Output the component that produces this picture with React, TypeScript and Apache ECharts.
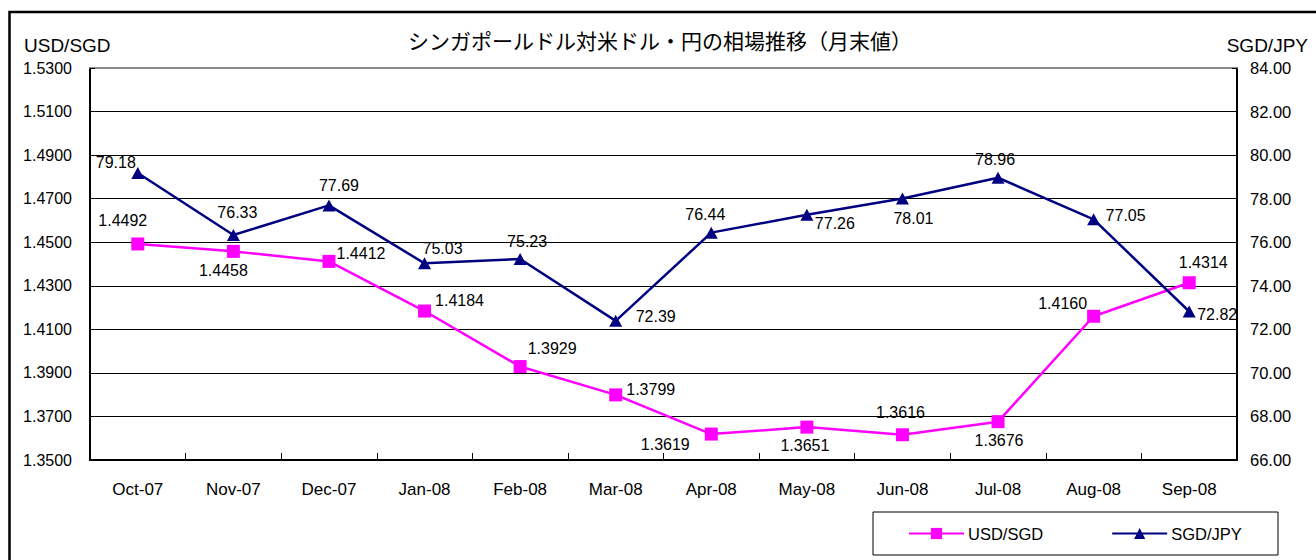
import React, { useEffect, useRef } from "react";
import * as echarts from "echarts";

const categories = ["Oct-07", "Nov-07", "Dec-07", "Jan-08", "Feb-08", "Mar-08", "Apr-08", "May-08", "Jun-08", "Jul-08", "Aug-08", "Sep-08"];
const usdSgd = [1.4492, 1.4458, 1.4412, 1.4184, 1.3929, 1.3799, 1.3619, 1.3651, 1.3616, 1.3676, 1.416, 1.4314];
const sgdJpy = [79.18, 76.33, 77.69, 75.03, 75.23, 72.39, 76.44, 77.26, 78.01, 78.96, 77.05, 72.82];

// label offsets (style only)
const usdLabelOffsets = [[-15, -23], [-10, 19], [32, -8], [35, -11], [32, -18], [35, -5], [-46, 10], [-2, 18], [-2, -22], [1, 19], [-31, -13], [14, -20]];
const jpyLabelOffsets = [[-22, -10], [4, -23], [10, -20], [18, -15], [7, -17], [40, -4], [-6, -18], [28, 9], [11, 20], [-3, -18], [32, -4], [28, 3]];

const NUM_FONT = "'Liberation Sans', Arial, sans-serif";
const TXT_FONT = "'Liberation Sans', Arial, sans-serif";
const CJK_FONT = "'Noto Sans CJK JP', 'Noto Sans', sans-serif";

export default function App() {
  const ref = useRef<HTMLDivElement>(null);
  useEffect(() => {
    if (!ref.current) return;
    const chart = echarts.init(ref.current, undefined, { renderer: "svg" });
    chart.setOption({
      animation: false,
      backgroundColor: "#fff",
      grid: { left: 90, right: 79, top: 68, bottom: 100, containLabel: false },
      graphic: [
        { type: "rect", silent: true, z: -10, shape: { x: 9.5, y: 12, width: 1400, height: 600 }, style: { fill: "none", stroke: "#000", lineWidth: 2.5 } },
        { type: "text", x: 660, y: 40, style: { text: "シンガポールドル対米ドル・円の相場推移（月末値）", fontSize: 21, fontFamily: CJK_FONT, fill: "#000", align: "center", verticalAlign: "middle", textAlign: "center", textVerticalAlign: "middle" } },
        { type: "text", x: 24, y: 45, style: { text: "USD/SGD", fontSize: 19, fontFamily: TXT_FONT, fill: "#000", align: "left", verticalAlign: "middle", textAlign: "left", textVerticalAlign: "middle" } },
        { type: "text", x: 1308, y: 45, style: { text: "SGD/JPY", fontSize: 19, fontFamily: TXT_FONT, fill: "#000", align: "right", verticalAlign: "middle", textAlign: "right", textVerticalAlign: "middle" } },
        { type: "rect", silent: true, shape: { x: 873, y: 512, width: 405, height: 43 }, style: { fill: "#fff", stroke: "#000", lineWidth: 1 } },
      ],
      legend: {
        left: 908,
        top: 525,
        padding: 0,
        itemWidth: 55,
        itemHeight: 14,
        itemGap: 68,
        textStyle: { fontSize: 16.5, fontFamily: TXT_FONT, color: "#000", padding: [0, 0, 0, -1] },
        data: ["USD/SGD", "SGD/JPY"],
        z: 10,
      },
      xAxis: [
        {
          type: "category",
          data: categories,
          boundaryGap: true,
          position: "bottom",
          axisLine: { lineStyle: { color: "#000", width: 2 } },
          axisTick: { show: true, inside: true, length: 7, alignWithLabel: false, lineStyle: { color: "#000", width: 1 } },
          axisLabel: { fontSize: 17, fontFamily: TXT_FONT, color: "#000", margin: 21 },
          splitLine: { show: false },
        },
        {
          type: "category",
          data: categories,
          position: "top",
          axisLine: { lineStyle: { color: "#888", width: 2 } },
          axisTick: { show: false },
          axisLabel: { show: false },
          splitLine: { show: false },
        },
      ],
      yAxis: [
        {
          type: "value",
          min: 1.35,
          max: 1.53,
          interval: 0.02,
          position: "left",
          axisLine: { show: true, lineStyle: { color: "#000", width: 2 } },
          axisTick: { show: true, inside: true, length: 5, lineStyle: { color: "#000" } },
          axisLabel: { fontSize: 16, fontFamily: NUM_FONT, color: "#000", margin: 18, formatter: (v: number) => v.toFixed(4) },
          splitLine: { show: true, lineStyle: { color: "#000", width: 1 } },
        },
        {
          type: "value",
          min: 66,
          max: 84,
          interval: 2,
          position: "right",
          axisLine: { show: true, lineStyle: { color: "#000", width: 2 } },
          axisTick: { show: true, inside: true, length: 5, lineStyle: { color: "#000" } },
          axisLabel: { fontSize: 16.5, fontFamily: NUM_FONT, color: "#000", margin: 13, formatter: (v: number) => v.toFixed(2) },
          splitLine: { show: false },
        },
      ],
      series: [
        {
          name: "USD/SGD",
          type: "line",
          xAxisIndex: 0,
          yAxisIndex: 0,
          symbol: "rect",
          symbolSize: 13,
          color: "#FF00FF",
          lineStyle: { color: "#FF00FF", width: 2.5 },
          itemStyle: { color: "#FF00FF" },
          label: { show: true, position: "inside", fontSize: 16, fontFamily: NUM_FONT, color: "#000", formatter: (p: any) => Number(p.value).toFixed(4) },
          data: usdSgd.map((v, i) => ({ value: v, label: { offset: usdLabelOffsets[i] } })),
          z: 3,
        },
        {
          name: "SGD/JPY",
          type: "line",
          xAxisIndex: 0,
          yAxisIndex: 1,
          symbol: "triangle",
          symbolSize: [13, 12],
          color: "#000080",
          lineStyle: { color: "#000080", width: 2.5 },
          itemStyle: { color: "#000080" },
          label: { show: true, position: "inside", fontSize: 16, fontFamily: NUM_FONT, color: "#000", formatter: (p: any) => Number(p.value).toFixed(2) },
          data: sgdJpy.map((v, i) => ({ value: v, label: { offset: jpyLabelOffsets[i] } })),
          z: 4,
        },
      ],
    });
    return () => chart.dispose();
  }, []);
  return <div ref={ref} style={{ position: "fixed", left: 0, top: 0, width: 1316, height: 560 }} />;
}
